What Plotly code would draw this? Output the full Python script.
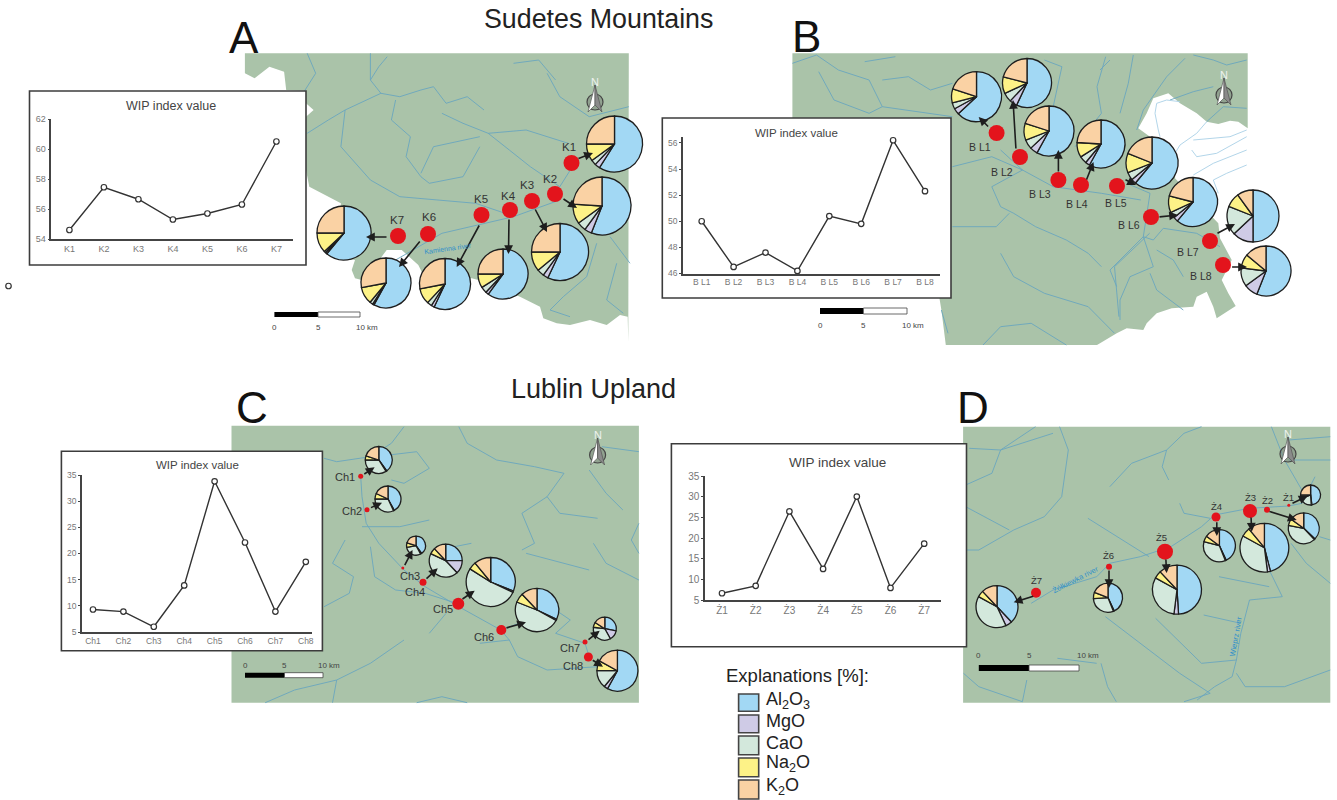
import plotly.graph_objects as go

W, H = 1337, 800

# ---------- data ----------
COMPONENTS = ["Al2O3", "MgO", "CaO", "Na2O", "K2O"]
COMP_COLORS = ["#A2D8F4", "#CFCBE6", "#D3E8DC", "#FDF287", "#FAD2A4"]
COMP_LABELS = ["Al<sub>2</sub>O<sub>3</sub>", "MgO", "CaO", "Na<sub>2</sub>O", "K<sub>2</sub>O"]

a_sites = ["K1", "K2", "K3", "K4", "K5", "K6", "K7"]
a_wip = [54.6, 57.45, 56.65, 55.3, 55.7, 56.3, 60.5]
b_sites = ["B L1", "B L2", "B L3", "B L4", "B L5", "B L6", "B L7", "B L8"]
b_wip = [50.0, 46.5, 47.6, 46.2, 50.4, 49.8, 56.2, 52.3]
c_sites = ["Ch1", "Ch2", "Ch3", "Ch4", "Ch5", "Ch6", "Ch7", "Ch8"]
c_wip = [9.3, 8.9, 6.0, 13.9, 33.8, 22.1, 8.9, 18.4]
d_sites = ["Ż1", "Ż2", "Ż3", "Ż4", "Ż5", "Ż6", "Ż7"]
d_wip = [6.7, 8.5, 26.5, 12.6, 30.1, 8.0, 18.7]

a_comp = [[59, 3, 3, 10, 25], [56, 4, 5, 11, 24], [57, 3, 4, 11, 25], [60, 2, 4, 9, 25],
          [57, 2, 3, 10, 28], [58, 1, 2, 11, 28], [61, 1, 1, 12, 25]]
b_comp = [[63, 4, 4, 9, 20], [57, 5, 6, 11, 21], [58, 5, 6, 11, 20], [58, 3, 5, 10, 24],
          [61, 3, 5, 12, 19], [61, 3, 4, 11, 21], [50, 13, 18, 9, 10], [56, 9, 12, 9, 14]]
c_comp = [[40, 1, 34, 5, 20], [42, 1, 32, 7, 18], [40, 2, 30, 8, 20], [25, 13, 44, 6, 12],
          [31, 1, 52, 5, 11], [32, 1, 48, 7, 12], [28, 14, 35, 7, 16], [58, 3, 14, 8, 17]]
d_comp = [[48, 1, 20, 6, 25], [37, 1, 40, 7, 15], [46, 2, 35, 6, 11], [43, 1, 35, 6, 15],
          [49, 3, 31, 5, 12], [43, 1, 30, 7, 19], [38, 5, 40, 5, 12]]

# ---------- placement (page pixels) ----------
a_pies = [(614.5, 144, 28), (602, 206, 29), (560, 252, 28.5), (503, 274, 25), (445, 284, 25.5), (386, 283, 25), (344, 233, 27)]
a_dots = [(571.5, 163, 8), (555, 194, 8), (532, 201, 8), (510, 210, 8), (481.5, 215, 8), (428, 234, 8), (398, 236, 8)]
a_lbls = [(568.6, 147), (550, 179), (527, 185), (508, 196), (481, 199), (429, 217), (397, 220)]
a_arrs = [(577, 159, 593, 153), (562, 198, 577, 208), (534.5, 208, 547, 232), (509, 218, 508.5, 254),
          (480, 224, 456.7, 267), (421, 240, 399, 267), (388, 237, 366, 237)]

b_pies = [(976.5, 96.7, 25), (1027, 83, 24.5), (1049, 131, 25), (1101, 144, 24), (1152, 163, 26), (1193, 202, 24.5), (1253, 216, 26), (1266, 271, 25)]
b_dots = [(996.6, 133, 8), (1020, 157, 8), (1058.4, 180, 8), (1081, 185, 8), (1117, 186, 8), (1151, 217, 8), (1210, 241, 8), (1223, 265, 8)]
b_lbls = [(979.5, 147), (1002, 172), (1039.6, 194), (1077, 204), (1116, 203), (1129, 225), (1188, 252), (1201, 276)]
b_arrs = [(989.6, 128, 978.7, 117), (1016, 150, 1013, 100), (1058.4, 173, 1058.4, 150), (1086, 181, 1093.5, 162),
          (1124, 179, 1136, 185), (1158, 217, 1178, 215), (1216, 234, 1235, 224), (1230.6, 267, 1247, 267)]

c_pies = [(378.8, 460, 13.5), (388, 499, 13), (416, 545.7, 9.5), (445.7, 560.7, 16.5), (490.7, 582, 24.5), (537, 610, 21.7), (604.8, 628.7, 11.5), (617.4, 670.7, 20.5)]
c_dots = [(360.7, 476.3, 2.5), (367, 509.7, 2.5), (402.8, 568, 1.5), (423, 582.3, 3.5), (458.3, 603.7, 6), (501.3, 630, 5), (585, 642, 2.5), (588.4, 657, 4.5)]
c_lbls = [(344.7, 477.3), (352.3, 511.3), (410.4, 575.7), (414.6, 591.7), (442.8, 609.3), (484, 637), (569.5, 648.3), (573.2, 666)]
c_arrs = [(362.8, 475, 374.6, 467.3), (369.5, 508.3, 382, 502.7), (404, 566.7, 412.5, 550), (425, 580, 437.7, 568.3),
          (461, 600, 474.7, 590.7), (505, 628.3, 526, 622.3), (587, 640.7, 599.7, 630.7), (591.3, 659.3, 603, 666.7)]

d_pies = [(1310.6, 495, 10), (1303.7, 528.3, 15.5), (1264.4, 547.7, 24.4), (1219.4, 545.7, 16), (1177, 589.7, 24.5), (1108, 597.7, 14.6), (997, 606.7, 21)]
d_dots = [(1288.8, 505.3, 1.5), (1267, 509.7, 3), (1250, 511, 7), (1216, 517, 4.5), (1165, 551.7, 8), (1109, 566.7, 3), (1036, 592.7, 5)]
d_lbls = [(1288.8, 497.7), (1267.4, 500.7), (1250.4, 497), (1216, 506), (1161, 537), (1108, 555), (1036.9, 580)]
d_arrs = [(1291, 504, 1307.6, 496), (1268, 511, 1296.7, 520), (1251, 516, 1251.7, 531.7), (1216.8, 520.7, 1216.8, 536),
          (1165.8, 558, 1166.6, 573), (1109, 569, 1109, 588), (1034.7, 595.7, 1013.7, 602.3)]

GREEN = "#AAC3A9"
RIVER = "#6AA6BE"
PALE_RIVER = "#A9D0E6"


def conv(x0, sx, y0):
    return lambda pts: [(x0 + x / sx, y0 + y / 3) for x, y in pts]


A = conv(0, 2.376, 0)
B = conv(650, 2.282, 0)
C = conv(0, 2.376, 380)
D = conv(660, 2.29, 400)
E = conv(1100, 3, 50)   # right part of map B
F = conv(330, 3, 200)   # lower part of map A

map_a = (A([(582, 160), (1494, 160)])
         + F([(895, 425), (893, 350), (870, 345), (830, 375), (780, 360), (720, 375), (680, 370), (640, 355), (630, 320),
              (570, 290), (445, 240), (425, 235), (280, 225), (265, 195), (215, 150), (170, 150), (155, 170), (140, 185),
              (95, 240), (75, 235), (65, 210), (75, 180), (20, 170)])
         + A([(810, 610), (735, 560), (727, 510), (727, 350), (745, 330), (727, 310), (727, 272), (680, 270), (675, 215),
              (640, 200), (605, 235), (582, 220)]))
map_b = (B([(325, 160)])
         + E([(443, 10), (443, 235), (415, 215), (390, 212), (355, 222), (320, 215), (290, 190), (240, 160), (205, 130),
              (160, 145), (140, 190), (115, 235), (150, 260), (230, 340), (225, 385), (355, 520), (360, 565), (395, 630),
              (365, 690), (385, 730), (407, 768), (350, 805), (340, 770), (320, 725), (290, 740), (280, 770), (215, 775),
              (170, 790), (140, 820), (130, 840), (80, 835), (50, 850), (0, 880)])
         + B([(1020, 1035), (675, 1035), (665, 930), (660, 890), (325, 354)]))
map_c = C([(550, 137), (1518, 137), (1518, 968), (550, 968)])
map_d = D([(694, 80), (1535, 80), (1535, 908), (694, 908)])

rivers_a = [A(p) for p in [
    [(880, 160), (880, 240), (905, 280), (950, 290), (1000, 270), (1030, 260), (1060, 310), (1110, 290), (1150, 330)],
    [(730, 160), (750, 220), (720, 280)],
    [(920, 170), (900, 200), (880, 240)],
    [(905, 280), (820, 330), (810, 440), (880, 540), (950, 590), (1130, 610), (1200, 640)],
    [(940, 300), (930, 360), (975, 410), (965, 470), (1000, 530), (1020, 550), (1100, 530), (1140, 440)],
    [(1050, 340), (1100, 370), (1160, 400), (1250, 390), (1350, 430)],
    [(1140, 410), (1030, 440), (1000, 520)],
    [(1160, 400), (1210, 450), (1260, 500), (1330, 560), (1360, 500)],
    [(1300, 220), (1330, 290), (1400, 350), (1494, 320)],
    [(1220, 190), (1280, 180), (1320, 240)],
    [(1330, 600), (1220, 650), (1050, 700), (940, 780)],
    [(730, 400), (780, 360), (820, 330)],
]] + [F(p) for p in [
    [(800, 130), (770, 230), (700, 290), (660, 330), (720, 350)],
    [(840, 110), (900, 190)],
    [(860, 190), (830, 300), (880, 340)],
]]
rivers_b = [B(p) for p in [
    [(325, 190), (380, 165), (430, 210), (500, 240), (530, 320), (690, 350)],
    [(385, 215), (420, 300), (500, 340), (530, 320)],
    [(530, 240), (590, 230), (640, 270), (690, 250)],
    [(490, 185), (560, 170)],
    [(690, 500), (780, 470), (850, 510), (920, 560), (1030, 580), (1120, 600)],
    [(800, 450), (850, 510), (780, 560), (800, 620), (830, 640), (880, 680), (950, 720), (1000, 760), (1030, 800)],
    [(690, 680), (790, 680), (820, 640)],
    [(800, 760), (830, 830), (900, 880), (1000, 920), (1060, 1000)],
    [(1040, 170), (1020, 260), (1030, 340), (970, 440)],
    [(1140, 700), (1060, 800), (1070, 950)],
    [(760, 1035), (800, 980), (870, 970), (950, 1035)],
    [(900, 180), (940, 200), (920, 320)],
    [(665, 930), (680, 1000)],
]] + [E(p) for p in [
    [(440, 30), (380, 45), (340, 30), (280, 15)],
    [(255, 25), (200, 80), (130, 180), (110, 240)],
    [(340, 110), (280, 125), (210, 150)],
    [(440, 175), (370, 170), (320, 215)],
    [(100, 15), (85, 100), (60, 190)],
    [(30, 30), (0, 60)],
    [(80, 400), (150, 430), (130, 560), (30, 660), (50, 710)],
    [(130, 560), (160, 570), (190, 535), (290, 550), (360, 590)],
    [(130, 560), (160, 650), (90, 680), (60, 750), (60, 810)],
    [(150, 670), (170, 720), (250, 780)],
    [(170, 600), (220, 630), (250, 680)],
]]
rivers_b_pale = [E(p) for p in [
    [(240, 155), (200, 150), (170, 160), (165, 190), (175, 240), (180, 260)],
    [(320, 215), (290, 250), (240, 285), (225, 310)],
    [(440, 240), (390, 260), (280, 270)],
    [(440, 260), (350, 310), (290, 320), (275, 300)],
    [(440, 300), (340, 340), (280, 375)],
    [(440, 345), (380, 370), (340, 390), (355, 430)],
]]
rivers_c = [C(p) for p in [
    [(960, 140), (930, 190), (880, 230), (800, 245), (770, 235)],
    [(890, 230), (990, 215), (1020, 265), (960, 310), (930, 300)],
    [(857, 289), (860, 350), (870, 430), (900, 490), (960, 570), (1010, 620), (1090, 680), (1190, 750), (1320, 690), (1355, 720), (1320, 760), (1390, 790), (1400, 830)],
    [(1190, 750), (1210, 780), (1140, 790)],
    [(1210, 780), (1230, 830), (1300, 870), (1420, 860)],
    [(880, 500), (890, 590), (940, 630), (1010, 640), (1085, 670)],
    [(1090, 140), (1110, 190), (1180, 240), (1270, 260), (1340, 280), (1300, 350), (1240, 400), (1270, 490), (1240, 510)],
    [(1300, 350), (1330, 400), (1420, 415)],
    [(1400, 270), (1440, 340), (1480, 390)],
    [(1430, 200), (1518, 215)],
    [(1518, 430), (1500, 480), (1518, 520)],
    [(1410, 490), (1440, 550), (1518, 600)],
    [(1250, 520), (1400, 570)],
    [(960, 780), (880, 850), (800, 900), (790, 968)],
    [(1020, 760), (1060, 700)],
    [(860, 440), (950, 440), (1020, 420)],
    [(820, 480), (790, 550), (840, 590), (830, 640), (770, 680)],
    [(630, 968), (700, 930), (800, 900)],
    [(990, 968), (1050, 950), (1110, 968)],
    [(1120, 490), (1040, 510)],
]]
rivers_d = [D(p) for p in [
    [(860, 80), (780, 150), (760, 220), (700, 255)],
    [(708, 145), (780, 150), (900, 100)],
    [(915, 80), (935, 150), (920, 290), (880, 350), (810, 390), (730, 450), (700, 450)],
    [(700, 320), (800, 390)],
    [(1240, 80), (1200, 100), (1160, 150), (1080, 190), (1030, 260)],
    [(1160, 150), (1150, 200), (1165, 240)],
    [(980, 355), (1120, 470)],
    [(850, 610), (900, 570), (1000, 530), (1030, 490), (1100, 470), (1170, 440), (1240, 380), (1270, 345), (1350, 325), (1440, 318), (1470, 310), (1500, 230)],
    [(1190, 310), (1200, 340), (1260, 355)],
    [(1400, 80), (1430, 180), (1470, 270)],
    [(1440, 180), (1535, 180)],
    [(1440, 120), (1535, 110)],
    [(1445, 430), (1480, 490), (1535, 550)],
    [(1510, 410), (1535, 420)],
    [(1395, 510), (1425, 590), (1350, 600), (1330, 700), (1320, 780), (1310, 830), (1270, 860), (1230, 900)],
    [(1280, 530), (1395, 560)],
    [(1245, 645), (1330, 670)],
    [(1135, 655), (1240, 790), (1320, 780)],
    [(1020, 650), (1120, 750), (1190, 820), (1260, 880)],
    [(695, 820), (730, 860), (830, 905), (840, 840)],
    [(1010, 790), (1025, 860), (1045, 905)],
    [(1320, 820), (1340, 860), (1430, 860), (1535, 810)],
    [(910, 775), (1000, 790)],
    [(1200, 905), (1260, 880)],
]]

insets = [
    dict(sites=a_sites, wip=a_wip, box=(29.5, 91, 306, 265), ax=(51.3, 292.5), y=(239, 119), first=69.4, step=34.5,
         rng=(54, 62), dt=2, title=(171, 106, 12.5), tf=9),
    dict(sites=b_sites, wip=b_wip, box=(662.3, 118, 951, 298), ax=(683, 940), y=(273.5, 137), first=701.7, step=31.9,
         rng=(46, 56.45), dt=2, title=(796, 133, 11.5), tf=8.5),
    dict(sites=c_sites, wip=c_wip, box=(61.4, 451.3, 322.4, 650.7), ax=(82, 312.3), y=(632, 475), first=93, step=30.4,
         rng=(5, 35), dt=5, title=(197, 465, 11.5), tf=8.5),
    dict(sites=d_sites, wip=d_wip, box=(671.4, 443.7, 966.5, 646.7), ax=(705, 940.8), y=(600.3, 476.3), first=722, step=33.7,
         rng=(5, 35), dt=5, title=(837, 462.5, 13.5), tf=10),
]

fig = go.Figure()
shapes, annots = [], []


def poly(pts, fill=None, line=None, width=1, close=True):
    d = "M" + " L".join(f"{x:.1f},{y:.1f}" for x, y in pts) + (" Z" if close else "")
    shapes.append(dict(type="path", path=d, xref="x", yref="y", layer="below",
                       fillcolor=fill if fill else "rgba(0,0,0,0)",
                       line=dict(color=line if line else "rgba(0,0,0,0)", width=width)))


def rect(x0, y0, x1, y1, fill, line=None, width=1):
    shapes.append(dict(type="rect", x0=x0, y0=y0, x1=x1, y1=y1, xref="x", yref="y", layer="below", fillcolor=fill,
                       line=dict(color=line if line else "rgba(0,0,0,0)", width=width)))


def text(x, y, s, size, color="#222", anchor="center", angle=0):
    annots.append(dict(x=x, y=y, xref="x", yref="y", text=s, showarrow=False, xanchor=anchor, yanchor="middle",
                       textangle=angle, font=dict(size=size, color=color, family="Liberation Sans")))


def north(x, y):
    shapes.append(dict(type="circle", x0=x - 8, x1=x + 8, y0=y - 8, y1=y + 8, xref="x", yref="y", layer="below",
                       fillcolor="rgba(120,130,120,0.5)", line=dict(color="#444", width=1.2)))
    poly([(x, y - 17), (x - 7, y + 10), (x, y + 3)], fill="#ffffff", line="#555", width=0.7)
    poly([(x, y - 17), (x + 7, y + 10), (x, y + 3)], fill="#8a8a8a", line="#555", width=0.7)
    text(x, y - 20, "N", 11, "#eef2ee")


def scalebar(x0, xm, x1, y0, y1, ly, lx):
    rect(x0, y0, xm, y1, "#000000")
    rect(xm, y0, x1, y1, "#ffffff", "#444", 0.8)
    text(x0, ly, "0", 8, "#444")
    text(xm, ly, "5", 8, "#444")
    text(lx, ly, "10 km", 8, "#444")


# maps and rivers
for m, rv in [(map_a, rivers_a), (map_b, rivers_b), (map_c, rivers_c), (map_d, rivers_d)]:
    poly(m, fill=GREEN)
    for r in rv:
        poly(r, line=RIVER, width=0.9, close=False)
for r in rivers_b_pale:
    poly(r, line=PALE_RIVER, width=0.9, close=False)

north(595, 102)
north(1224, 95)
north(597.6, 455)
north(1288, 454)

scalebar(274.4, 318, 360, 312, 317, 327, 367)
scalebar(820, 863.4, 907, 308, 314, 325, 913)
scalebar(245, 284.5, 323, 672.7, 677.7, 665.7, 329)
scalebar(978.8, 1029, 1079, 665, 671, 655, 1088)

# inset panels
for i, ins in enumerate(insets):
    bx0, by0, bx1, by1 = ins["box"]
    rect(bx0, by0, bx1, by1, "#ffffff", "#3c3c3c", 1.6)
    n = i + 2
    x0, x1 = ins["ax"]
    yb, yt = ins["y"]
    fig.add_trace(go.Scatter(x=list(range(len(ins["wip"]))), y=ins["wip"], mode="lines+markers", xaxis=f"x{n}", yaxis=f"y{n}",
                             line=dict(color="#333", width=1.4),
                             marker=dict(size=5.5, color="#fff", line=dict(color="#333", width=1.2)),
                             showlegend=False, hoverinfo="skip", cliponaxis=False))
    fig.update_layout(**{
        f"xaxis{n}": dict(domain=[x0 / W, x1 / W], anchor=f"y{n}",
                          range=[(x0 - ins["first"]) / ins["step"], (x1 - ins["first"]) / ins["step"]],
                          tickmode="array", tickvals=list(range(len(ins["sites"]))), ticktext=ins["sites"],
                          showgrid=False, zeroline=False, showline=True, linecolor="#444", linewidth=1.5, ticks="",
                          tickfont=dict(size=ins["tf"], color="#777", family="Liberation Sans")),
        f"yaxis{n}": dict(domain=[1 - yb / H, 1 - yt / H], anchor=f"x{n}", range=list(ins["rng"]), dtick=ins["dt"],
                          showgrid=False, zeroline=False, showline=True, linecolor="#444", linewidth=1.5, ticks="outside",
                          ticklen=2, tickcolor="#444",
                          tickfont=dict(size=ins["tf"], color="#777", family="Liberation Sans")),
    })
    tx, ty, ts = ins["title"]
    text(tx, ty, "WIP index value", ts, "#444")

# red sampling points
all_dots = a_dots + b_dots + c_dots + d_dots
fig.add_trace(go.Scatter(x=[p[0] for p in all_dots], y=[p[1] for p in all_dots], mode="markers", xaxis="x", yaxis="y",
                         marker=dict(size=[2 * p[2] for p in all_dots], color="#E3141C", opacity=1, line=dict(width=0)),
                         showlegend=False, hoverinfo="skip"))
fig.add_trace(go.Scatter(x=[8.5], y=[286], mode="markers", xaxis="x", yaxis="y",
                         marker=dict(size=5.5, color="#fff", line=dict(color="#333", width=1.2)),
                         showlegend=False, hoverinfo="skip"))

# pies
for comp, places in [(a_comp, a_pies), (b_comp, b_pies), (c_comp, c_pies), (d_comp, d_pies)]:
    for vals, (cx, cy, r) in zip(comp, places):
        fig.add_trace(go.Pie(values=vals, labels=COMPONENTS, sort=False, direction="clockwise", rotation=0,
                             domain=dict(x=[(cx - r) / W, (cx + r) / W], y=[1 - (cy + r) / H, 1 - (cy - r) / H]),
                             marker=dict(colors=COMP_COLORS, line=dict(color="#1e1e1e", width=1.3)),
                             textinfo="none", hoverinfo="skip", showlegend=False))

# site labels
for sites, lbls, size in [(a_sites, a_lbls, 11.5), (b_sites, b_lbls, 10.5), (c_sites, c_lbls, 11), (d_sites, d_lbls, 9.5)]:
    for s, (x, y) in zip(sites, lbls):
        text(x, y, s, size, "#333")

# arrows
for arr in (a_arrs, b_arrs, c_arrs, d_arrs):
    for x0, y0, x1, y1 in arr:
        annots.append(dict(x=x1, y=y1, ax=x0, ay=y0, xref="x", yref="y", axref="x", ayref="y", text="", showarrow=True,
                           arrowhead=2, arrowsize=1.1, arrowwidth=1.6, arrowcolor="#1e1e1e"))

# headings
text(598.5, 19, "Sudetes Mountains", 26.8)
text(593.5, 389, "Lublin Upland", 27)
text(244, 37, "A", 44, "#111")
text(806, 36, "B", 44, "#111")
text(252, 407, "C", 44, "#111")
text(973, 407, "D", 44, "#111")

# river names
text(448, 248, "Kamienna river", 7, "#2F8FC9", angle=-8)
text(1075.7, 579, "Żółkiewka river", 7.5, "#2F8FC9", angle=-27)
text(1236, 636.7, "Wieprz river", 7.5, "#2F8FC9", angle=-80)

# legend
text(797, 675, "Explanations [%]:", 18.5)
leg_rows = [(694, 711.3, 700), (715, 732.7, 720.7), (736, 754.7, 742.7), (758, 776.7, 763), (780, 799, 786)]
for col, lab, (y0, y1, ly) in zip(COMP_COLORS, COMP_LABELS, leg_rows):
    rect(738.6, y0, 758.7, y1, col, "#444", 1.6)
    text(763.5, ly, lab, 18, "#222", anchor="left")

fig.update_layout(
    width=W, height=H, margin=dict(l=0, r=0, t=0, b=0, autoexpand=False), paper_bgcolor="#fff", plot_bgcolor="rgba(0,0,0,0)",
    showlegend=False, shapes=shapes, annotations=annots,
    xaxis=dict(domain=[0, 1], range=[0, W], visible=False, fixedrange=True),
    yaxis=dict(domain=[0, 1], range=[H, 0], visible=False, fixedrange=True),
)
fig.write_html("out.html", config=dict(displayModeBar=False),
               post_script="document.body.style.margin='0';")
